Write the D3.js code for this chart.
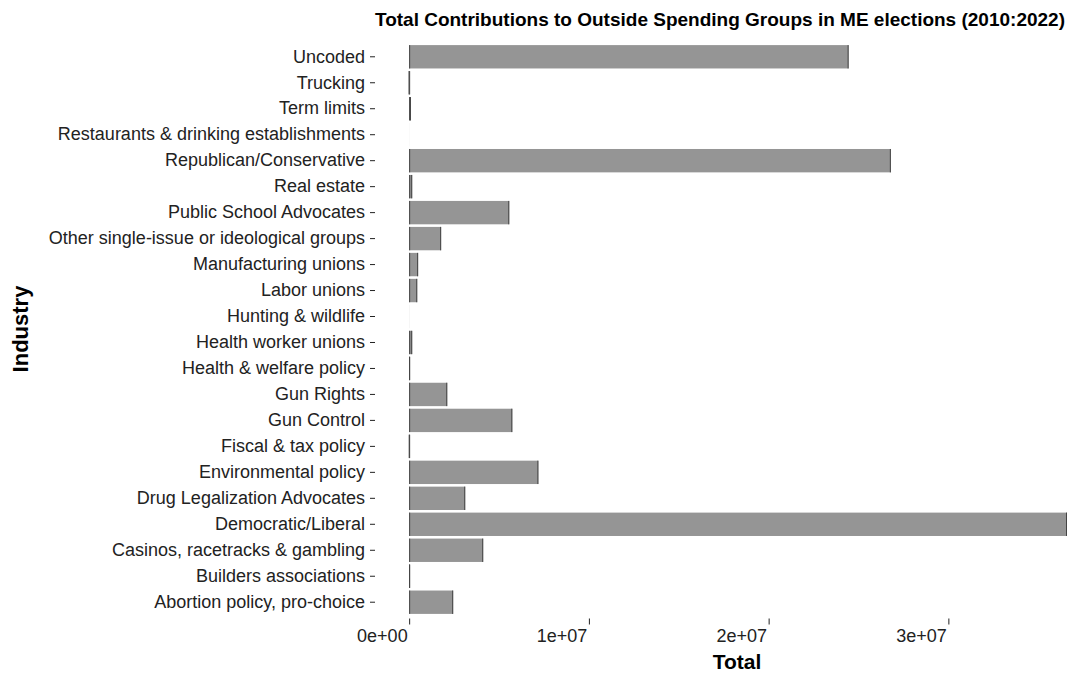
<!DOCTYPE html>
<html>
<head>
<meta charset="utf-8">
<script src="https://cdn.jsdelivr.net/npm/d3@7"></script>
<style>
  body { margin: 0; background: #fff; }
  text { font-family: "Liberation Sans", Arial, Helvetica, sans-serif; }
</style>
</head>
<body>
<svg width="1070" height="675"></svg>
<script>
var svg = d3.select('svg');

// categories top to bottom
var industries = [
  'Uncoded', 'Trucking', 'Term limits', 'Restaurants & drinking establishments',
  'Republican/Conservative', 'Real estate', 'Public School Advocates',
  'Other single-issue or ideological groups', 'Manufacturing unions', 'Labor unions',
  'Hunting & wildlife', 'Health worker unions', 'Health & welfare policy',
  'Gun Rights', 'Gun Control', 'Fiscal & tax policy', 'Environmental policy',
  'Drug Legalization Advocates', 'Democratic/Liberal', 'Casinos, racetracks & gambling',
  'Builders associations', 'Abortion policy, pro-choice'
];
var totals = [
  24450000, 20000, 100000, 3000,
  26800000, 170000, 5570000,
  1780000, 500000, 450000,
  5000, 170000, 50000,
  2120000, 5740000, 30000, 7190000,
  3120000, 36600000, 4120000,
  50000, 2450000
];
var xTicks = [0, 1e7, 2e7, 3e7];
var xTickLabels = ['0e+00', '1e+07', '2e+07', '3e+07'];

var data = industries.map(function(d, i) { return {name: d, value: totals[i]}; });

var panelLeft = 375, panelRight = 1067, panelTop = 42.5, panelBottom = 616.5;

var xScale = d3.scaleLinear()
  .domain([-1.9e6, 3.66e7])
  .range([panelLeft, panelRight]);

var yScale = d3.scaleBand()
  .domain(industries)
  .range([panelTop, panelBottom])
  .padding(0.1);

// bars
var barG = svg.append('g');
barG.selectAll('rect')
  .data(data)
  .enter().append('rect')
  .attr('x', xScale(0))
  .attr('y', function(d) { return yScale(d.name); })
  .attr('width', function(d) { return Math.max(0, xScale(d.value) - xScale(0)); })
  .attr('height', yScale.bandwidth())
  .style('fill', '#959595');

// darker bar ends, as in the reference
var visible = data.filter(function(d) { return d.value > 10000; });
barG.selectAll('line.end')
  .data(visible)
  .enter().append('line')
  .attr('class', 'end')
  .attr('x1', function(d) { return xScale(d.value) - 0.5; })
  .attr('x2', function(d) { return xScale(d.value) - 0.5; })
  .attr('y1', function(d) { return yScale(d.name); })
  .attr('y2', function(d) { return yScale(d.name) + yScale.bandwidth(); })
  .style('stroke', '#444')
  .style('stroke-width', 1);
barG.selectAll('line.start')
  .data(visible)
  .enter().append('line')
  .attr('class', 'start')
  .attr('x1', xScale(0) + 0.5)
  .attr('x2', xScale(0) + 0.5)
  .attr('y1', function(d) { return yScale(d.name); })
  .attr('y2', function(d) { return yScale(d.name) + yScale.bandwidth(); })
  .style('stroke', '#444')
  .style('stroke-width', 1);

// y axis
var yAxisG = svg.append('g')
  .attr('transform', 'translate(' + panelLeft + ',0)')
  .call(d3.axisLeft(yScale).tickSize(5).tickPadding(5));
yAxisG.select('.domain').remove();
yAxisG.selectAll('text').style('font-size', '18px').style('fill', '#222');
yAxisG.selectAll('line').style('stroke', '#222');

// x axis
var xAxisG = svg.append('g')
  .attr('transform', 'translate(0,' + (panelBottom + 2) + ')')
  .call(d3.axisBottom(xScale).tickValues(xTicks)
    .tickFormat(function(d, i) { return xTickLabels[i]; })
    .tickSize(6).tickPadding(5));
xAxisG.select('.domain').remove();
xAxisG.selectAll('text')
  .attr('text-anchor', 'end')
  .attr('x', -2)
  .style('font-size', '18px')
  .style('fill', '#222');
xAxisG.selectAll('line').style('stroke', '#222');

// titles
svg.append('text')
  .attr('x', 1065)
  .attr('y', 26)
  .attr('text-anchor', 'end')
  .style('font-size', '19px')
  .style('font-weight', 'bold')
  .text('Total Contributions to Outside Spending Groups in ME elections (2010:2022)');

svg.append('text')
  .attr('x', 737)
  .attr('y', 669)
  .attr('text-anchor', 'middle')
  .style('font-size', '21px')
  .style('font-weight', 'bold')
  .text('Total');

svg.append('text')
  .attr('transform', 'translate(28,329) rotate(-90)')
  .attr('text-anchor', 'middle')
  .style('font-size', '22px')
  .style('font-weight', 'bold')
  .text('Industry');
</script>
</body>
</html>
